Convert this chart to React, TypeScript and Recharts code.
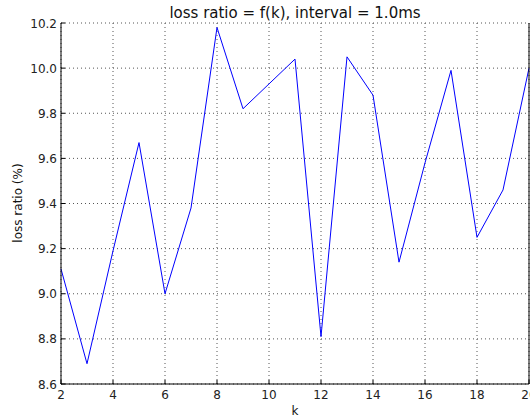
import React from 'react';
import { LineChart, Line, XAxis, YAxis, CartesianGrid } from 'recharts';

const kValues = [2, 3, 4, 5, 6, 7, 8, 9, 10, 11, 12, 13, 14, 15, 16, 17, 18, 19, 20];
const lossRatio = [
  9.11, 8.69, 9.19, 9.67, 9.0, 9.38, 10.18, 9.82, 9.93, 10.04,
  8.81, 10.05, 9.88, 9.14, 9.58, 9.99, 9.25, 9.46, 10.0
];
const xTicks = [2, 4, 6, 8, 10, 12, 14, 16, 18, 20];
const yTicks = [8.6, 8.8, 9.0, 9.2, 9.4, 9.6, 9.8, 10.0, 10.2];

const data = kValues.map((k, i) => ({ k, loss: lossRatio[i] }));

const font = "'DejaVu Sans', sans-serif";
const TICK = 4;

function BottomTick({ x, y, payload }: any) {
  return (
    <g>
      <line x1={x} y1={y} x2={x} y2={y - TICK} stroke="#000" />
      <text x={x} y={y + 15} textAnchor="middle" fontSize={12} fontFamily={font} fill="#222">
        {payload.value}
      </text>
    </g>
  );
}

function TopTick({ x, y }: any) {
  return <line x1={x} y1={y} x2={x} y2={y + TICK} stroke="#000" />;
}

function LeftTick({ x, y, payload }: any) {
  return (
    <g>
      <line x1={x} y1={y} x2={x + TICK} y2={y} stroke="#000" />
      <text x={x - 4} y={y + 4.5} textAnchor="end" fontSize={12} fontFamily={font} fill="#222">
        {payload.value.toFixed(1)}
      </text>
    </g>
  );
}

function RightTick({ x, y }: any) {
  return <line x1={x} y1={y} x2={x - TICK} y2={y} stroke="#000" />;
}

export default function App() {
  return (
    <div style={{ position: 'absolute', left: 0, top: 0, width: 530, height: 418, background: '#fff', overflow: 'hidden' }}>
      <div
        style={{
          position: 'absolute', left: 61, width: 468, top: 4, textAlign: 'center',
          fontFamily: font, fontSize: 15, color: '#111', whiteSpace: 'nowrap'
        }}>
        loss ratio = f(k), interval = 1.0ms
      </div>
      <div
        style={{
          position: 'absolute', left: 61, width: 468, top: 404, textAlign: 'center',
          fontFamily: font, fontSize: 12, color: '#111'
        }}>
        k
      </div>
      <div
        style={{
          position: 'absolute', left: 18, top: 203, transform: 'translate(-50%, -50%) rotate(-90deg)',
          fontFamily: font, fontSize: 12, color: '#111', whiteSpace: 'nowrap'
        }}>
        loss ratio (%)
      </div>
      <LineChart width={530} height={418} data={data} margin={{ top: 23, right: 0, left: 0, bottom: 0 }}>
        <CartesianGrid stroke="#555" strokeDasharray="1 3" yAxisId="left" />
        <XAxis
          dataKey="k"
          type="number"
          domain={[2, 20]}
          ticks={xTicks}
          height={34}
          axisLine={{ stroke: '#000' }}
          tickLine={false}
          tickSize={0}
          tickMargin={0}
          tick={<BottomTick />}
          interval={0}
        />
        <XAxis
          xAxisId="top"
          orientation="top"
          dataKey="k"
          type="number"
          domain={[2, 20]}
          ticks={xTicks}
          height={0}
          axisLine={{ stroke: '#000' }}
          tickLine={false}
          tickSize={0}
          tickMargin={0}
          tick={<TopTick />}
          interval={0}
        />
        <YAxis
          yAxisId="left"
          type="number"
          domain={[8.6, 10.2]}
          ticks={yTicks}
          width={61}
          axisLine={{ stroke: '#000' }}
          tickLine={false}
          tickSize={0}
          tickMargin={0}
          tick={<LeftTick />}
          interval={0}
        />
        <YAxis
          yAxisId="right"
          orientation="right"
          type="number"
          domain={[8.6, 10.2]}
          ticks={yTicks}
          width={1}
          axisLine={{ stroke: '#000' }}
          tickLine={false}
          tickSize={0}
          tickMargin={0}
          tick={<RightTick />}
          interval={0}
        />
        <Line
          yAxisId="left"
          type="linear"
          dataKey="loss"
          stroke="#0000ff"
          strokeWidth={1}
          dot={false}
          isAnimationActive={false}
        />
      </LineChart>
    </div>
  );
}
